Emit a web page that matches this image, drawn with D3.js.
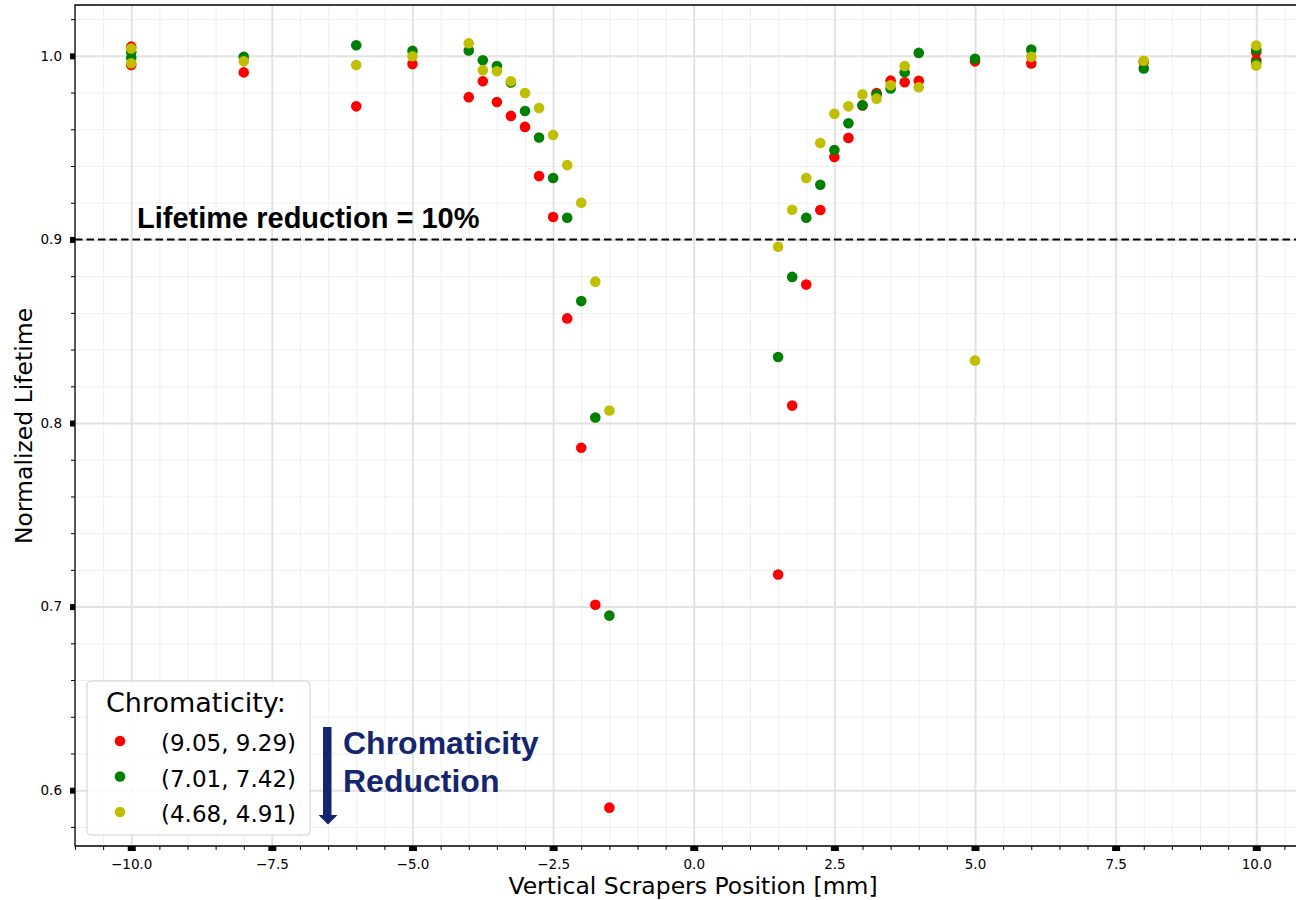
<!DOCTYPE html>
<html>
<head>
<meta charset="utf-8">
<script src="https://cdn.jsdelivr.net/npm/d3@7"></script>
<style>
  html, body { margin: 0; padding: 0; background: #fff; }
  svg { display: block; }
</style>
</head>
<body>
<svg id="chart" width="1296" height="900"></svg>
<script>
// ---------- data ----------
const positions = [-10,-10,-8,-6,-5,-4,-3.75,-3.5,-3.25,-3,-2.75,-2.5,-2.25,-2,-1.75,-1.5,
                   1.5,1.75,2,2.25,2.5,2.75,3,3.25,3.5,3.75,4,5,6,8,10,10];
const redValues = [1.005,0.995,0.991,0.9725,0.9955,0.9775,0.9862,0.9749,0.9673,0.9613,0.9345,0.9122,0.857,0.7865,0.701,0.5905,
                   0.7175,0.8095,0.8754,0.916,0.9449,0.9553,0.973,0.9798,0.9865,0.9856,0.9864,0.997,0.9958,0.9967,1.002,0.9976];
const greenValues = [1.002,0.999,0.9995,1.0058,1.0027,1.0029,0.9976,0.9945,0.9855,0.970,0.9555,0.9335,0.9118,0.8664,0.803,0.6951,
                   0.836,0.8796,0.9118,0.9298,0.9487,0.9633,0.9731,0.979,0.9822,0.991,1.0016,0.9984,1.0035,0.9931,1.0035,0.9962];
const yellowValues = [1.004,0.996,0.997,0.995,0.9998,1.0069,0.9922,0.9916,0.9862,0.9798,0.9716,0.9569,0.9405,0.920,0.877,0.8068,
                   0.896,0.9162,0.9335,0.9525,0.9684,0.9725,0.979,0.9767,0.984,0.9945,0.9829,0.834,0.9995,0.9973,1.0056,0.9947];
const seriesLabels = ["(9.05, 9.29)", "(7.01, 7.42)", "(4.68, 4.91)"];
const seriesColors = ["#ff0000", "#008000", "#bfbf00"];
const xTicks = [-10, -7.5, -5, -2.5, 0, 2.5, 5, 7.5, 10];
const yTicks = [0.6, 0.7, 0.8, 0.9, 1.0];
const thresholdValue = 0.9;
const legendTitle = "Chromaticity:";
const thresholdLabel = "Lifetime reduction = 10%";
const arrowLabel = ["Chromaticity", "Reduction"];
const xTitle = "Vertical Scrapers Position [mm]";
const yTitle = "Normalized Lifetime";

const series = [redValues, greenValues, yellowValues].map((vals, i) => ({
  label: seriesLabels[i], color: seriesColors[i],
  points: vals.map((v, j) => ({x: positions[j], y: v}))
}));

// ---------- layout ----------
const svg = d3.select("#chart");
const L = 75, T = 5, B = 846, R = 1312.5;
const x = d3.scaleLinear().domain([-11, 11]).range([L, R]);
const y = d3.scaleLinear().domain([0.5696, 1.0277]).range([B, T]);
const font = "'DejaVu Sans', sans-serif";

svg.append("defs").append("clipPath").attr("id", "clip")
  .append("rect").attr("x", L).attr("y", T).attr("width", R - L).attr("height", B - T);

const plot = svg.append("g").attr("clip-path", "url(#clip)");

// minor grid
const xMinor = d3.range(-11, 11.01, 0.5);
const yMinor = d3.range(0.58, 1.03, 0.02);
plot.append("g").attr("transform", `translate(0,${B})`)
  .call(d3.axisBottom(x).tickValues(xMinor).tickSize(-(B - T)).tickFormat(""))
  .call(g => g.select(".domain").remove())
  .call(g => g.selectAll("line").attr("stroke", "#efefef").attr("stroke-width", 1));
plot.append("g").attr("transform", `translate(${L},0)`)
  .call(d3.axisLeft(y).tickValues(yMinor).tickSize(-(R - L)).tickFormat(""))
  .call(g => g.select(".domain").remove())
  .call(g => g.selectAll("line").attr("stroke", "#efefef").attr("stroke-width", 1));
// major grid
plot.append("g").attr("transform", `translate(0,${B})`)
  .call(d3.axisBottom(x).tickValues(xTicks).tickSize(-(B - T)).tickFormat(""))
  .call(g => g.select(".domain").remove())
  .call(g => g.selectAll("line").attr("stroke", "#e2e2e2").attr("stroke-width", 2));
plot.append("g").attr("transform", `translate(${L},0)`)
  .call(d3.axisLeft(y).tickValues(yTicks).tickSize(-(R - L)).tickFormat(""))
  .call(g => g.select(".domain").remove())
  .call(g => g.selectAll("line").attr("stroke", "#e2e2e2").attr("stroke-width", 2));

// threshold line
plot.append("line")
  .attr("x1", L).attr("x2", R).attr("y1", y(thresholdValue)).attr("y2", y(thresholdValue))
  .attr("stroke", "#000").attr("stroke-width", 2).attr("stroke-dasharray", "7.5,4");

// points
series.forEach(s => {
  plot.append("g").selectAll("circle").data(s.points).join("circle")
    .attr("cx", d => x(d.x)).attr("cy", d => y(d.y)).attr("r", 5.3)
    .attr("fill", s.color);
});

// frame
svg.append("path")
  .attr("d", `M${R},${T}H${L}V${B}H${R}`)
  .attr("fill", "none").attr("stroke", "#000").attr("stroke-width", 1.3);

// minor ticks
const xAxisMinor = svg.append("g").attr("transform", `translate(0,${B})`)
  .call(d3.axisBottom(x).tickValues(xMinor.filter(v => !xTicks.includes(v))).tickSize(4).tickFormat(""));
xAxisMinor.select(".domain").remove();
const yAxisMinor = svg.append("g").attr("transform", `translate(${L},0)`)
  .call(d3.axisLeft(y).tickValues(yMinor.filter(v => !yTicks.some(t => Math.abs(t - v) < 1e-6))).tickSize(4).tickFormat(""));
yAxisMinor.select(".domain").remove();

// major ticks (thick)
const xAxis = svg.append("g").attr("transform", `translate(0,${B})`)
  .call(d3.axisBottom(x).tickValues(xTicks).tickSize(5).tickPadding(8)
    .tickFormat(d => d3.format(".1f")(d).replace("-", "\u2212")));
xAxis.select(".domain").remove();
xAxis.selectAll("line").attr("stroke-width", 8);
xAxis.selectAll("text").attr("font-family", font).attr("font-size", 13.5).attr("fill", "#000");

const yAxis = svg.append("g").attr("transform", `translate(${L},0)`)
  .call(d3.axisLeft(y).tickValues(yTicks).tickSize(5).tickPadding(8).tickFormat(d3.format(".1f")));
yAxis.select(".domain").remove();
yAxis.selectAll("line").attr("stroke-width", 6);
yAxis.selectAll("text").attr("font-family", font).attr("font-size", 13.5).attr("fill", "#000");

// axis titles
svg.append("text").attr("x", (75 + 1312.5) / 2 - 0).attr("x", 693).attr("y", 894)
  .attr("text-anchor", "middle").attr("font-family", font).attr("font-size", 23.5)
  .attr("fill", "#000").text(xTitle);
svg.append("text").attr("transform", "translate(32,426) rotate(-90)")
  .attr("text-anchor", "middle").attr("font-family", font).attr("font-size", 23.5)
  .attr("fill", "#000").text(yTitle);

// threshold label
svg.append("text").attr("x", 137).attr("y", 228)
  .attr("font-family", "'Liberation Sans', Arial, sans-serif").attr("font-weight", "bold")
  .attr("font-size", 29).attr("fill", "#000").text(thresholdLabel);

// legend
const lg = svg.append("g");
lg.append("rect").attr("x", 87).attr("y", 681).attr("width", 223).attr("height", 154)
  .attr("rx", 4).attr("fill", "#fff").attr("fill-opacity", 0.85)
  .attr("stroke", "#d0d0d0").attr("stroke-width", 1);
lg.append("text").attr("x", 106).attr("y", 712).attr("font-family", font)
  .attr("font-size", 27).attr("fill", "#000").text(legendTitle);
series.forEach((s, i) => {
  const cy = 741 + i * 35.5;
  lg.append("circle").attr("cx", 120).attr("cy", cy).attr("r", 5.3).attr("fill", s.color);
  lg.append("text").attr("x", 161).attr("y", cy + 10).attr("font-family", font)
    .attr("font-size", 23).attr("fill", "#000").text(s.label);
});

// chromaticity reduction arrow
const navy = "#15266e";
svg.append("rect").attr("x", 323).attr("y", 727).attr("width", 8.5).attr("height", 89).attr("fill", navy);
svg.append("path").attr("d", "M318.5,815 L337.5,815 L328,824.5 Z").attr("fill", navy);
arrowLabel.forEach((t, i) => {
  svg.append("text").attr("x", 343).attr("y", 754 + i * 38)
    .attr("font-family", "'Liberation Sans', Arial, sans-serif").attr("font-weight", "bold")
    .attr("font-size", 32).attr("fill", navy).text(t);
});
</script>
</body>
</html>
